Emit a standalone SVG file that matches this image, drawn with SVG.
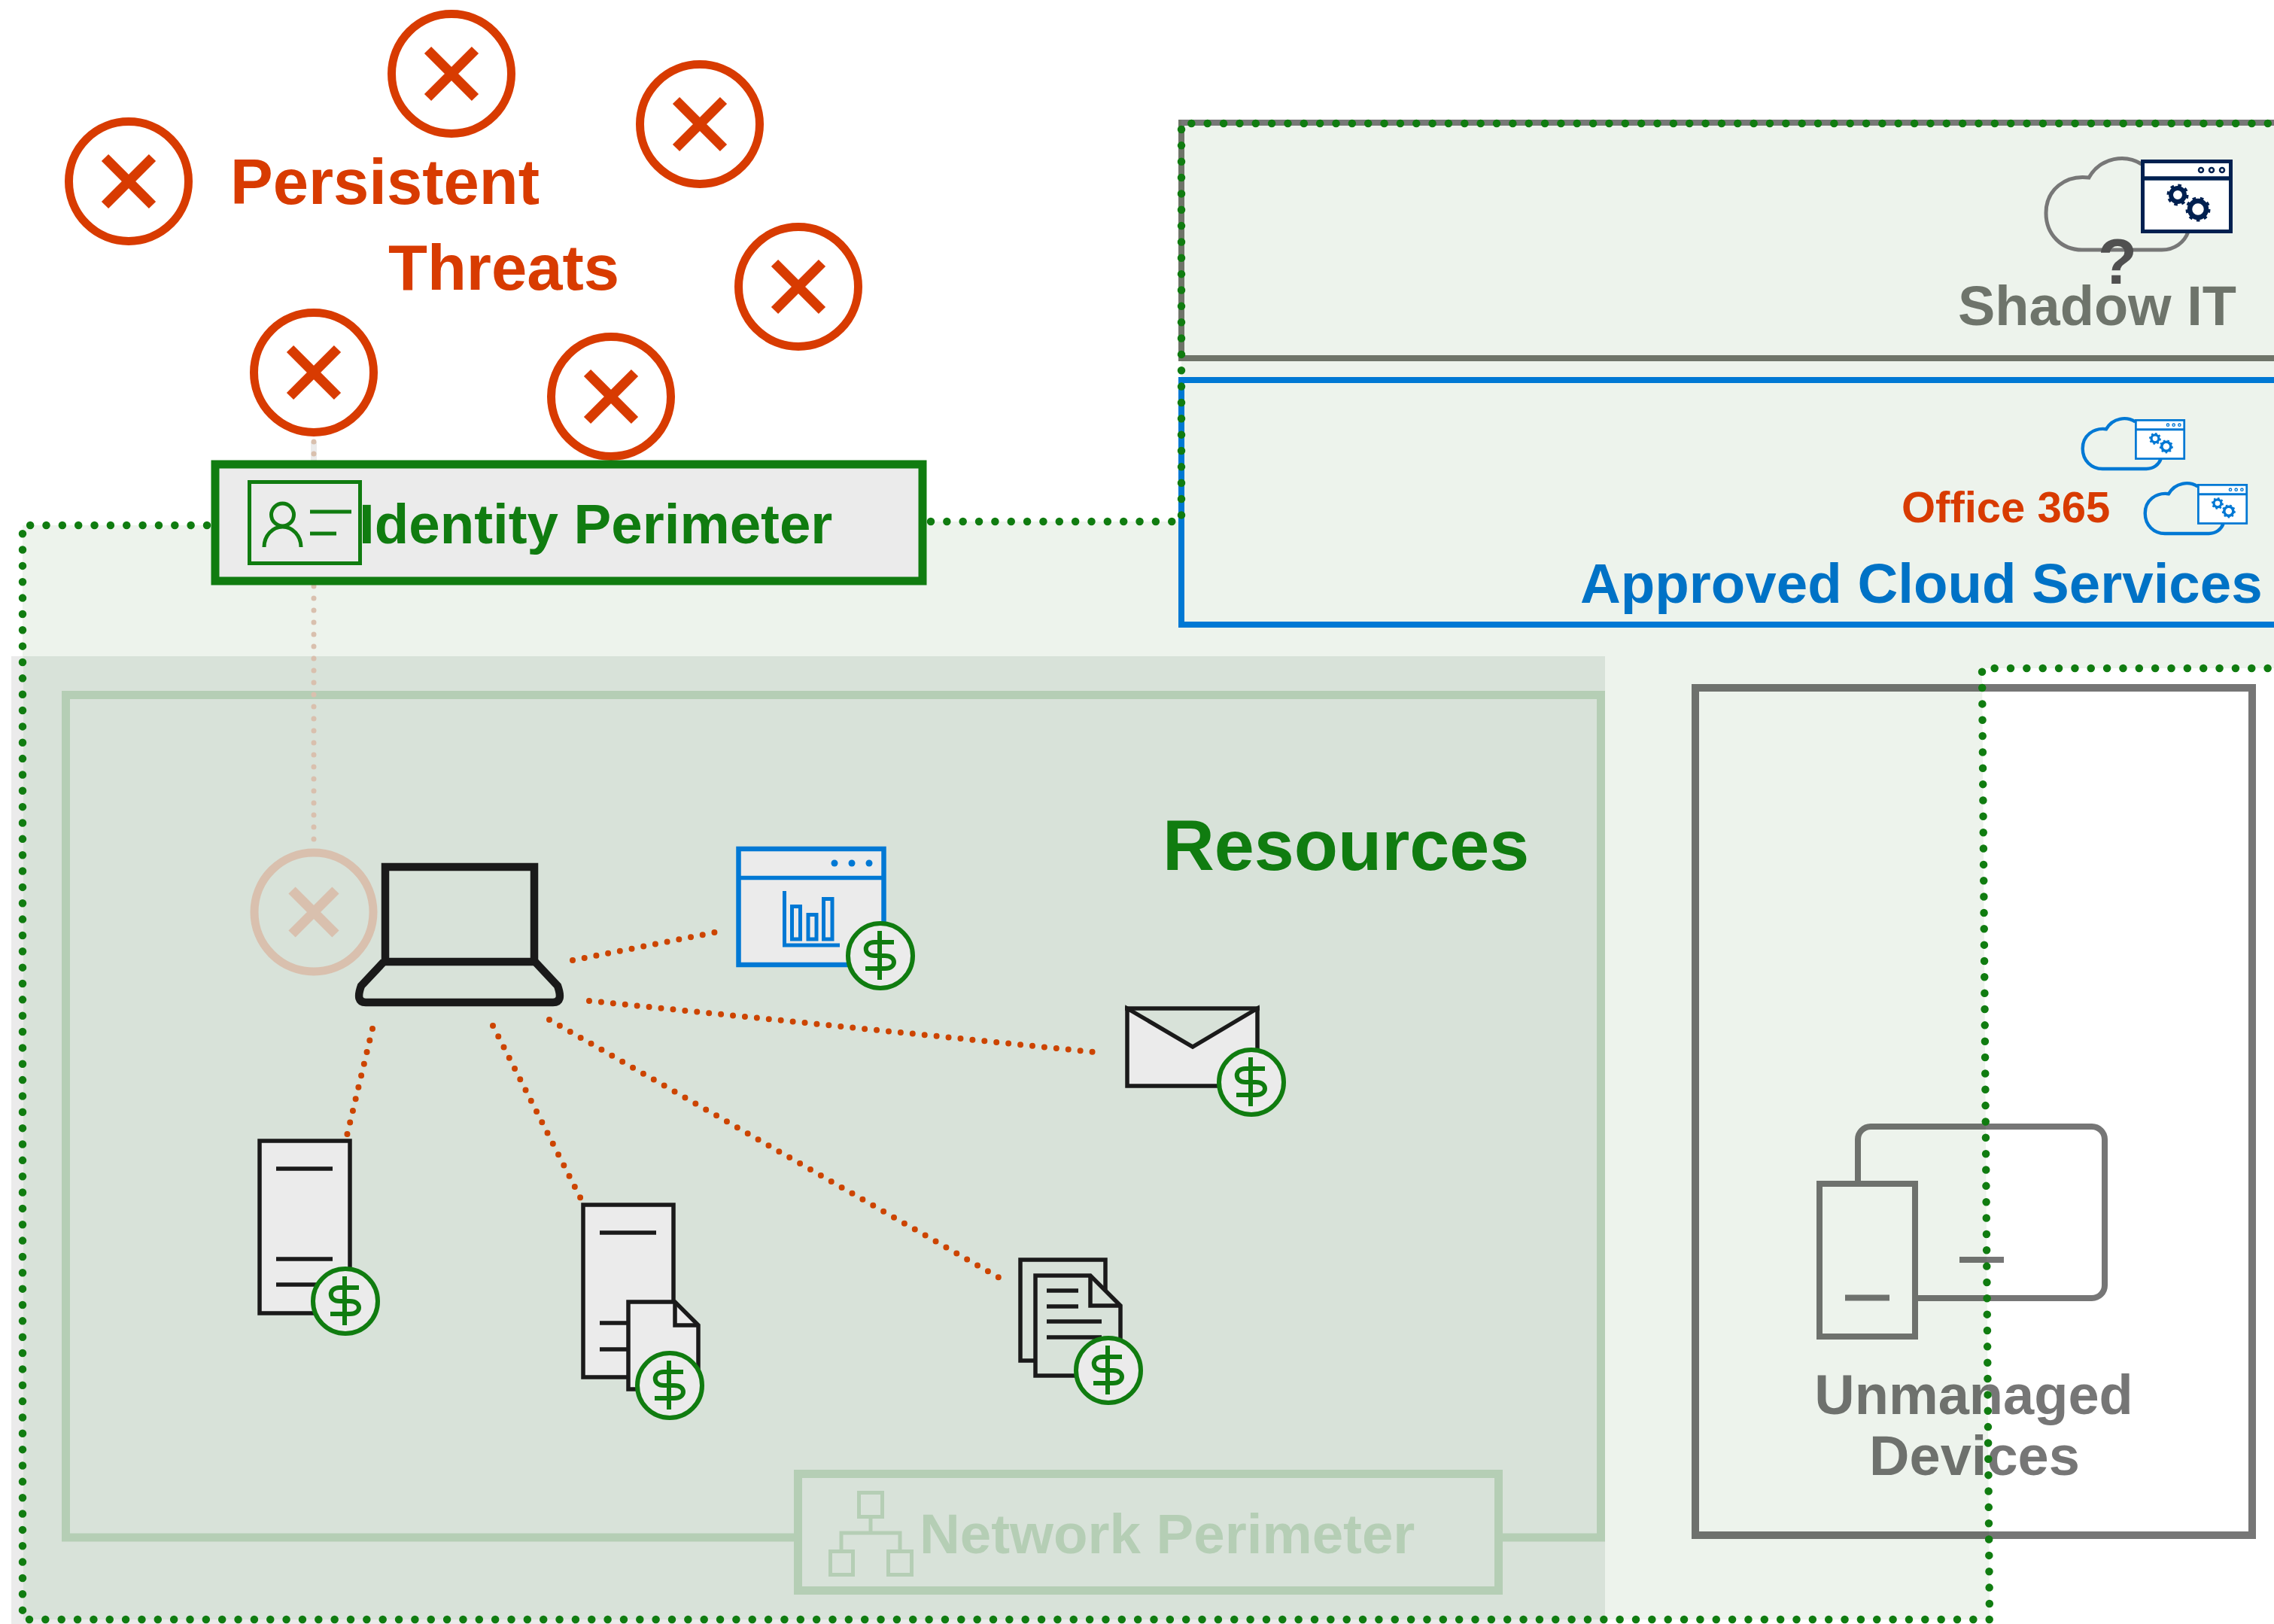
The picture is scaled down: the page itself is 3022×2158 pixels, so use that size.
<svg xmlns="http://www.w3.org/2000/svg" width="3022" height="2158" viewBox="0 0 3022 2158">
<style>
text{font-family:"Liberation Sans",Arial,sans-serif;font-weight:700}
.threat{fill:none;stroke:#d83b01;stroke-width:13}
.threat circle{fill:#fff;stroke-width:11}
.ink{fill:none;stroke:#1a1a1a;stroke-width:5.5}
.paper{fill:#ebebeb;stroke:#1a1a1a;stroke-width:5.5}
.gdots{fill:none;stroke:#107c10;stroke-width:10.5;stroke-linecap:round;stroke-dasharray:0 21.35}
.odots{fill:none;stroke:#cc4400;stroke-width:8;stroke-linecap:round;stroke-dasharray:0 16}
.net{fill:none;stroke:#b5ceb5;stroke-width:5}
.gray{fill:none;stroke:#767676;stroke-width:8}
</style>
<defs>
<path id="x" d="M-31.500-31.500 31.500 31.500M31.500-31.500-31.500 31.500"/>
<g id="dollar"><circle r="43" fill="#ebebeb" stroke="#107c10" stroke-width="6"/><path d="M18-18H-8C-23-18-23 0-8 0H6C22 0 22 17 6 17H-20M-1-33V32" fill="none" stroke="#107c10" stroke-width="6"/></g>
<path id="cloud" d="M2846 218C2825 205 2792 208 2776 236C2745 232 2719 252 2719 283C2719 312 2740 332 2767 332H2873C2890 332 2903 322 2908 308" fill="none"/>
<g id="window" fill="none" stroke="currentColor">
<rect x="2847.500" y="214.500" width="117" height="93" fill="#fff" stroke-width="5"/>
<path d="M2845 237H2965" stroke-width="5.500"/>
<circle cx="2925" cy="226" r="3" stroke-width="2.500"/><circle cx="2939" cy="226" r="3" stroke-width="2.500"/><circle cx="2953" cy="226" r="3" stroke-width="2.500"/>
<circle cx="2894" cy="259" r="9" stroke-width="6"/><circle cx="2894" cy="259" r="12.500" stroke-width="4" stroke-dasharray="4.500 5.300"/>
<circle cx="2921" cy="278" r="11" stroke-width="6.500"/><circle cx="2921" cy="278" r="14.500" stroke-width="4" stroke-dasharray="4.500 5.600"/>
</g>
</defs>
<rect width="3022" height="2158" fill="#fff"/>
<g id="zones">
<path d="M1570 164H3022V888H2634L2644 2152H30V698H281V693H1570Z" fill="#edf3ec"/>
<path d="M15 872H2133V2158H15Z" fill="#ebebeb"/>
<path d="M31 872H2133V2152H31Z" fill="#d8e2d9"/>
</g>
<g id="network-frame"><rect x="87.500" y="923.500" width="2040" height="1119.500" fill="none" stroke="#b5ceb5" stroke-width="11"/></g>
<g id="shadow-it">
<path d="M3022 163H1570V476H3022" fill="#edf3ec" stroke="#6f7469" stroke-width="8"/>
<path d="M3022 163H1570" fill="none" stroke="#777" stroke-width="8"/>
<use href="#cloud" stroke="#777" stroke-width="5"/>
<use href="#window" color="#002050"/>
<text x="2814" y="377" font-size="85" fill="#505050" text-anchor="middle">?</text>
<text x="2602" y="432" font-size="74" fill="#6e746b">Shadow IT</text>
</g>
<g id="approved-cloud">
<path d="M3022 505H1570V830H3022" fill="#edf3ec" stroke="#0078d4" stroke-width="8"/>
<g transform="translate(1272.250 440.400) scale(.55)" color="#0078d4"><use href="#cloud" stroke="#0078d4" stroke-width="8"/><use href="#window"/></g>
<g transform="translate(1355.250 526.400) scale(.55)" color="#0078d4"><use href="#cloud" stroke="#0078d4" stroke-width="8"/><use href="#window"/></g>
<text x="2527" y="694" font-size="58" fill="#d83b01">Office 365</text>
<text x="2100" y="801" font-size="74.500" fill="#0072c6">Approved Cloud Services</text>
</g>
<g id="unmanaged-devices" style="mix-blend-mode:multiply">
<rect x="2253" y="914" width="740" height="1126" fill="none" stroke="#767676" stroke-width="10"/>
<path class="gray" d="M2469 1570V1514a17 17 0 0 1 17-17H2780a17 17 0 0 1 17 17V1708a17 17 0 0 1-17 17H2545M2604 1674H2663"/>
<path class="gray" d="M2418 1573H2545V1776H2418ZM2452 1724.500H2511"/>
<text x="2623" y="1879" font-size="74" fill="#767676" text-anchor="middle">Unmanaged</text>
<text x="2624" y="1960" font-size="74" fill="#767676" text-anchor="middle">Devices</text>
</g>
<g id="connectors">
<path d="M417 587V612" stroke="#ebebeb" stroke-width="8" fill="none"/>
<path d="M417 587V1118" fill="none" stroke="#d9c0ae" stroke-width="7" stroke-linecap="round" stroke-dasharray="0 16"/>
<path class="odots" d="M761 1276L950 1239"/>
<path class="odots" d="M783 1330L1453 1398"/>
<path class="odots" d="M730 1355L1328 1698"/>
<path class="odots" d="M655 1363L772 1593"/>
<path class="odots" d="M495 1367L461 1509"/>
<path class="gdots" d="M1237 693H1570V164H3022"/>
<path class="gdots" d="M275 698H30V2152H2644L2634 888H3022"/>
</g>
<g id="threats">
<g class="threat" id="threat-1" transform="translate(600 98)"><circle r="79.500"/><use href="#x"/></g>
<g class="threat" id="threat-2" transform="translate(930 165)"><circle r="79.500"/><use href="#x"/></g>
<g class="threat" id="threat-3" transform="translate(171 241)"><circle r="79.500"/><use href="#x"/></g>
<g class="threat" id="threat-4" transform="translate(1061 381)"><circle r="79.500"/><use href="#x"/></g>
<g class="threat" id="threat-5" transform="translate(417 495)"><circle r="79.500"/><use href="#x"/></g>
<g class="threat" id="threat-6" transform="translate(812 527)"><circle r="79.500"/><use href="#x"/></g>
</g>
<g id="threats-label" fill="#d83b01">
<text x="306" y="271" font-size="85">Persistent</text>
<text x="516" y="385" font-size="85">Threats</text>
</g>
<g id="identity-perimeter">
<rect x="286" y="617" width="940" height="155" fill="#ebebeb" stroke="#107c10" stroke-width="11"/>
<g fill="none" stroke="#107c10" stroke-width="5">
<rect x="331.500" y="640.500" width="147" height="108"/>
<circle cx="375.500" cy="684" r="15"/>
<path d="M351 727A24.500 27 0 0 1 400 727M412 680H467M412 709H447"/>
</g>
<text x="477" y="722" font-size="74.500" fill="#107c10">Identity Perimeter</text>
</g>
<g id="ghost-threat" fill="none" stroke="#d9c0ae" stroke-width="11">
<circle cx="417" cy="1212" r="79"/>
<path d="M388 1183L446 1241M446 1183L388 1241" stroke-width="13"/>
</g>
<g id="laptop" fill="none" stroke="#1a1a1a" stroke-width="10.500">
<rect x="512" y="1152" width="198" height="126"/>
<path d="M510 1278L480 1310Q472 1332 486 1332H735Q749 1332 741 1310L711 1278"/>
</g>
<g id="chart-app">
<rect x="981.500" y="1128" width="193" height="154" fill="#ebebeb" stroke="#0078d4" stroke-width="6.500"/>
<path d="M981 1166.500H1175" stroke="#0078d4" stroke-width="5.500"/>
<circle cx="1109" cy="1147" r="4.500" fill="#0078d4"/><circle cx="1132" cy="1147" r="4.500" fill="#0078d4"/><circle cx="1155" cy="1147" r="4.500" fill="#0078d4"/>
<path d="M1042.500 1184V1256H1116M1052.500 1204.500H1063.500V1248H1052.500ZM1074 1215.500H1085V1248H1074ZM1094.500 1194.500H1106V1248H1094.500Z" fill="none" stroke="#0078d4" stroke-width="5"/>
<use href="#dollar" x="1170" y="1270"/>
</g>
<g id="mail">
<path class="paper" d="M1498 1340L1585 1391L1671 1340V1443H1498Z"/>
<path class="ink" d="M1495 1340H1674"/>
<use href="#dollar" x="1663" y="1438"/>
</g>
<g id="server-1">
<rect class="paper" x="345" y="1516" width="120" height="229"/>
<path class="ink" d="M367 1553H442M367 1673H442M367 1707H442"/>
<use href="#dollar" x="459" y="1729"/>
</g>
<g id="server-2">
<rect class="paper" x="775" y="1601" width="120" height="229"/>
<path class="ink" d="M797 1638H872M797 1758H872M797 1793H872"/>
<path class="paper" d="M835 1846V1730H897L928 1761V1846Z"/>
<path class="ink" d="M897 1730V1761H928"/>
<use href="#dollar" x="890" y="1841"/>
</g>
<g id="documents">
<rect class="ink" x="1356" y="1674" width="113" height="134"/>
<path class="ink" d="M1376 1828V1695H1449L1489 1735V1828Z" style="fill:#d8e2d9"/>
<path class="ink" d="M1449 1695V1735H1489M1391 1715H1433M1391 1736H1433M1391 1756H1464M1391 1777H1464"/>
<use href="#dollar" x="1473" y="1821"/>
</g>
<g id="resources-label"><text x="1545" y="1156" font-size="95.300" fill="#107c10">Resources</text></g>
<g id="network-perimeter">
<rect x="1060.500" y="1958.500" width="931" height="155" fill="#d8e2d9" stroke="#b5ceb5" stroke-width="11"/>
<path class="net" d="M1141.500 1983.500H1172.500V2015.500H1141.500ZM1103.500 2061.500H1133.500V2092.500H1103.500ZM1180.500 2061.500H1211.500V2092.500H1180.500ZM1157 2018V2037M1118 2059V2037H1196V2059"/>
<text x="1222" y="2064" font-size="74.500" fill="#b5ceb5">Network Perimeter</text>
</g>
</svg>
